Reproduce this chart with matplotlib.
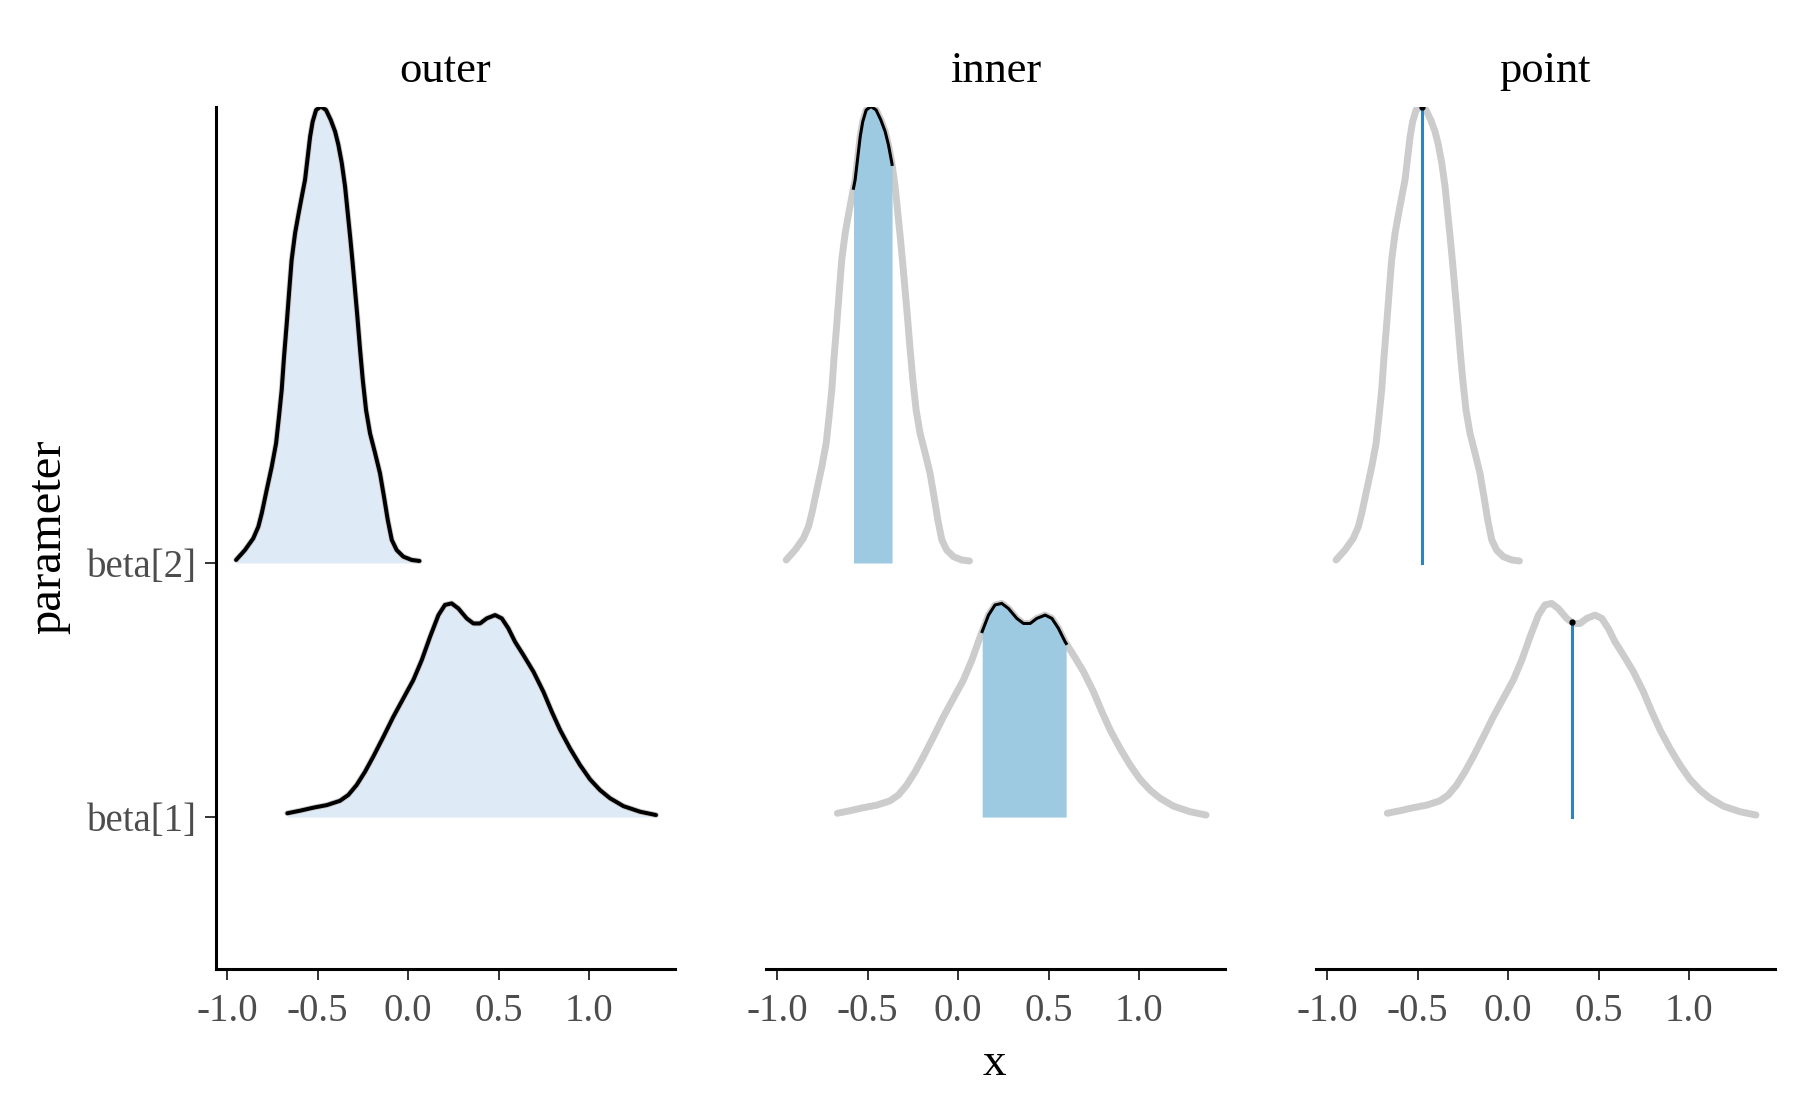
import matplotlib.pyplot as plt
import numpy as np

plt.rcParams["font.family"] = ["Liberation Serif", "DejaVu Serif"]

# density curves (height above the parameter baseline)
beta1_x = [-0.667, -0.597, -0.523, -0.449, -0.376, -0.330, -0.284, -0.238, -0.192,
           -0.136, -0.081, -0.026, 0.029, 0.076, 0.122, 0.168, 0.204, 0.241, 0.278,
           0.324, 0.361, 0.398, 0.435, 0.481, 0.518, 0.554, 0.591, 0.637, 0.693,
           0.748, 0.794, 0.840, 0.895, 0.950, 1.006, 1.061, 1.116, 1.190, 1.282, 1.370]
beta1_dens = [0.015, 0.025, 0.037, 0.047, 0.064, 0.087, 0.126, 0.178, 0.238, 0.316,
              0.395, 0.467, 0.539, 0.618, 0.710, 0.795, 0.835, 0.841, 0.821, 0.782,
              0.762, 0.762, 0.782, 0.795, 0.782, 0.743, 0.690, 0.638, 0.572, 0.493,
              0.415, 0.343, 0.270, 0.205, 0.148, 0.106, 0.074, 0.043, 0.021, 0.008]

beta2_x = [-0.950, -0.901, -0.855, -0.827, -0.808, -0.781, -0.753, -0.729, -0.713,
           -0.698, -0.685, -0.670, -0.656, -0.643, -0.624, -0.606, -0.587, -0.569,
           -0.556, -0.541, -0.527, -0.508, -0.481, -0.453, -0.427, -0.403, -0.385,
           -0.366, -0.348, -0.335, -0.320, -0.306, -0.293, -0.280, -0.265, -0.250,
           -0.232, -0.210, -0.182, -0.155, -0.133, -0.112, -0.090, -0.063, -0.026,
           0.020, 0.063]
beta2_dens = [0.012, 0.051, 0.097, 0.143, 0.196, 0.287, 0.379, 0.471, 0.576, 0.681,
              0.812, 0.944, 1.075, 1.193, 1.298, 1.370, 1.442, 1.508, 1.587, 1.678,
              1.737, 1.783, 1.797, 1.783, 1.744, 1.698, 1.646, 1.574, 1.482, 1.390,
              1.285, 1.180, 1.075, 0.970, 0.839, 0.720, 0.602, 0.510, 0.432, 0.353,
              0.261, 0.169, 0.091, 0.051, 0.025, 0.012, 0.008]

params = ["beta[1]", "beta[2]"]
inner_lo = [0.133, -0.578]
inner_hi = [0.597, -0.365]
point_est = [0.352, -0.475]

panels = ["outer", "inner", "point"]
x_ticks = [-1.0, -0.5, 0.0, 0.5, 1.0]

LIGHT = "#deebf7"
MID = "#9ecae1"
DARK = "#3182bd"
GREY = "#cccccc"

curves = [(np.array(beta1_x), np.array(beta1_dens)),
          (np.array(beta2_x), np.array(beta2_dens))]

fig = plt.figure(figsize=(18, 11.12), dpi=100)

left_edges = [0.12, 0.4256, 0.7311]
width = 0.255
bottom, height = 0.1286, 0.7752

line_kw = dict(solid_capstyle="round", solid_joinstyle="round")

for k, name in enumerate(panels):
    ax = fig.add_axes([left_edges[k], bottom, width, height])

    for i, (xs, ds) in enumerate(curves):
        base = i + 1
        ys = base + ds
        if name == "outer":
            ax.fill_between(xs, base, ys, color=LIGHT, lw=0, zorder=1)
            ax.plot(xs, ys, color=GREY, lw=4.2, zorder=2, **line_kw)
            ax.plot(xs, ys, color="black", lw=2.9, zorder=3, **line_kw)
        elif name == "inner":
            ax.plot(xs, ys, color=GREY, lw=5.0, zorder=1, **line_kw)
            lo, hi = inner_lo[i], inner_hi[i]
            inside = (xs > lo) & (xs < hi)
            seg_x = np.concatenate([[lo], xs[inside], [hi]])
            seg_y = base + np.interp(seg_x, xs, ds)
            ax.fill_between(seg_x, base, seg_y, color=MID, lw=0, zorder=2)
            ax.plot(seg_x, seg_y, color="black", lw=2.2, zorder=3,
                    solid_joinstyle="round")
        else:
            ax.plot(xs, ys, color=GREY, lw=5.0, zorder=1, **line_kw)
            px = point_est[i]
            top = base + np.interp(px, xs, ds)
            ax.plot([px, px], [base, top], color=DARK, lw=2.2, zorder=2)
            ax.plot([px], [top], "o", color="black", ms=3.5, zorder=3)

    ax.set_xlim(-1.061, 1.475)
    ax.set_ylim(0.402, 3.795)
    ax.set_xticks(x_ticks)
    ax.set_xticklabels([f"{t:.1f}" for t in x_ticks])

    for side in ["top", "right"]:
        ax.spines[side].set_visible(False)
    ax.spines["bottom"].set_linewidth(2.2)
    ax.spines["left"].set_linewidth(2.2)
    ax.tick_params(axis="both", length=8, width=1.4, color="#333333",
                   labelsize=28, labelcolor="#4d4d4d", pad=6)
    ax.tick_params(axis="x", pad=9)

    if k == 0:
        ax.set_yticks([1, 2])
        ax.set_yticklabels(params)
    else:
        ax.spines["left"].set_visible(False)
        ax.set_yticks([])

    ax.set_title(name, fontsize=32, pad=18)

fig.text(0.5525, 0.043, "x", ha="center", va="center", fontsize=34)
fig.text(0.027, 0.517, "parameter", ha="center", va="center", rotation=90,
         fontsize=35)

fig.savefig("out.png", dpi=100)
